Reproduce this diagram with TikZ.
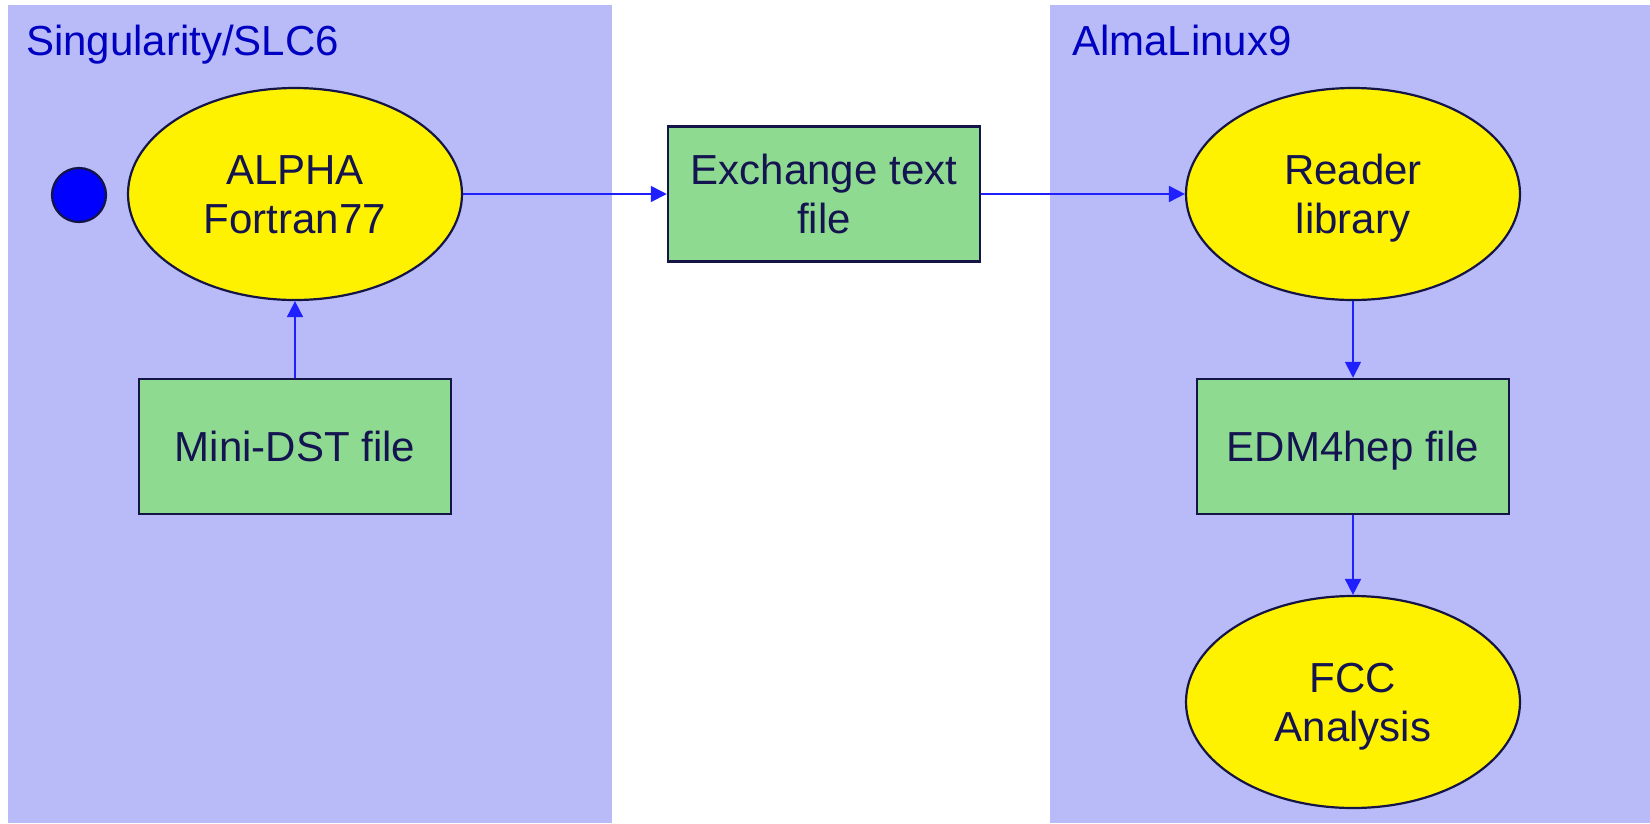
\documentclass[tikz,border=0pt]{standalone}
\usepackage{fontspec}
\setmainfont{Liberation Sans}
\usetikzlibrary{shapes.geometric,arrows.meta}
\definecolor{panelc}{RGB}{184,187,248}
\definecolor{titlec}{RGB}{0,0,192}
\definecolor{textc}{RGB}{20,20,80}
\definecolor{borderc}{RGB}{20,20,70}
\definecolor{boxc}{RGB}{143,218,145}
\definecolor{arrowc}{RGB}{32,32,255}
\newcommand{\capline}[1]{\rule{0pt}{30pt}\smash{#1}}
\tikzset{
  panel/.style={fill=panelc,draw=none},
  paneltitle/.style={anchor=base west,inner sep=0pt,text=titlec,font=\fontsize{42}{49}\selectfont},
  proc/.style={ellipse,draw=borderc,line width=2.2pt,fill=yellow,inner sep=0pt,
    minimum width=334pt,minimum height=212pt,align=center,text=textc,
    font=\fontsize{42}{49}\selectfont},
  filebox/.style={rectangle,draw=borderc,line width=2.5pt,fill=boxc,inner sep=0pt,
    minimum width=312pt,minimum height=135pt,align=center,text=textc,
    font=\fontsize{42}{49}\selectfont},
  startdot/.style={circle,draw=borderc,line width=2.2pt,fill=blue,inner sep=0pt,minimum size=54pt},
  flow/.style={draw=arrowc,line width=1.8pt,-{Triangle[length=16pt,width=16pt]}}
}
\begin{document}
\begin{tikzpicture}[x=1pt,y=-1pt]
\useasboundingbox (0,0) rectangle (1650,823);
\fill[white] (0,0) rectangle (1650,823);
\path[panel] (8,5) rectangle (612,823);
\path[panel] (1050,5) rectangle (1650,823);
\node[paneltitle] (t1) at (26,55) {Singularity/SLC6};
\node[paneltitle] (t2) at (1072,55) {AlmaLinux9};
\node[startdot] (dot) at (79,195) {};
\node[proc] (alpha) at (295,194) {\capline{ALPHA}\\\smash{Fortran77}};
\node[filebox] (mini) at (295,446.5) {\capline{Mini-DST file}};
\node[filebox] (exch) at (824,194) {\capline{Exchange text}\\\smash{file}};
\node[proc] (reader) at (1353,194) {\capline{Reader}\\\smash{library}};
\node[filebox] (edm) at (1353,446.5) {\capline{EDM4hep file}};
\node[proc] (fcc) at (1353,702) {\capline{FCC}\\\smash{Analysis}};
\draw[flow] (alpha) -- (exch);
\draw[flow] (exch) -- (reader);
\draw[flow] (mini) -- (alpha);
\draw[flow] (reader) -- (edm);
\draw[flow] (edm) -- (fcc);
\end{tikzpicture}
\end{document}
